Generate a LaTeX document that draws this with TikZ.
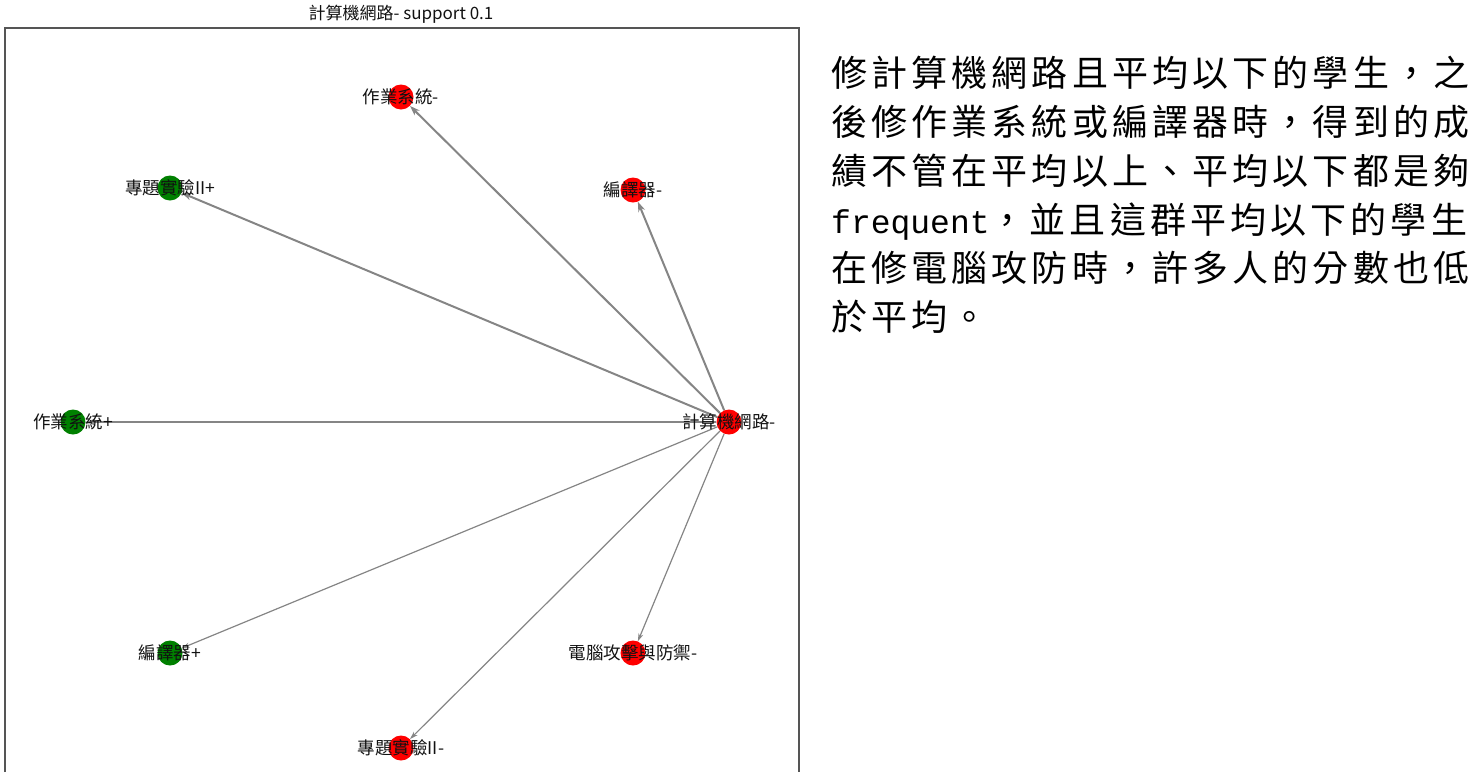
\documentclass[tikz,border=0pt]{standalone}
\usepackage{fontspec}
\setmainfont{Noto Sans CJK TC}
\newfontfamily\cjk[LetterSpace=11.5]{Noto Sans CJK TC}
\newfontfamily\mono{Liberation Mono}
\usetikzlibrary{arrows.meta}
\definecolor{edgegray}{HTML}{858585}
\definecolor{framegray}{HTML}{555555}
\definecolor{pos}{HTML}{008000}
\definecolor{neg}{HTML}{FF0000}
\definecolor{ink}{HTML}{111111}
\pgfdeclarelayer{back}
\pgfsetlayers{back,main}
\tikzset{
  frame/.style={draw=framegray, line width=1.2pt},
  edge/.style={draw=edgegray, line width=2pt, -{Stealth[length=10pt,width=7pt]}},
  edgethin/.style={draw=edgegray, line width=1.2pt, -{Stealth[length=8pt,width=5pt]}},
  vert/.style={circle, minimum size=25pt, inner sep=0pt},
  posv/.style={vert, fill=pos},
  negv/.style={vert, fill=neg},
  lab/.style={text=ink, font=\fontsize{17.5}{19}\selectfont},
}

\begin{document}
\begin{tikzpicture}[x=1pt, y=-1pt]
  \useasboundingbox (0,0) rectangle (1481,772);
  \draw[frame] (5,772) -- (5,28) -- (799,28) -- (799,772);
  \node[lab, font=\fontsize{17}{19}\selectfont] (title) at (401,14) {計算機網路- support 0.1};

  % vertices
  \node[negv, label={[lab]center:計算機網路-}] (N) at (729,422) {};
  \node[negv, label={[lab]center:作業系統-}] (OSm) at (401,97) {};
  \node[posv, label={[lab]center:專題實驗II+}] (PJp) at (170,188) {};
  \node[negv, label={[lab]center:編譯器-}] (CPm) at (633,190) {};
  \node[posv, label={[lab]center:作業系統+}] (OSp) at (73,422) {};
  \node[posv, label={[lab]center:編譯器+}] (CPp) at (170,653) {};
  \node[negv, label={[lab]center:電腦攻擊與防禦-}] (SEm) at (633,653) {};
  \node[negv, label={[lab]center:專題實驗II-}] (PJm) at (401,748) {};

  % edges
  \begin{pgfonlayer}{back}
    \draw[edge] (N) -- (OSm);
    \draw[edge] (N) -- (PJp);
    \draw[edge] (N) -- (CPm);
    \draw[edge] (N) -- (OSp);
    \draw[edgethin] (N) -- (CPp);
    \draw[edgethin] (N) -- (SEm);
    \draw[edgethin] (N) -- (PJm);
  \end{pgfonlayer}

  \node[anchor=north west, align=left, inner sep=0pt, text=black,
        font=\cjk\fontsize{36}{48.8}\selectfont] (note) at (831,56)
    {修計算機網路且平均以下的學生，之\\
     後修作業系統或編譯器時，得到的成\\
     績不管在平均以上、平均以下都是夠\\
     {\mono\fontsize{33}{48.8}\selectfont frequent}，並且這群平均以下的學生\\
     在修電腦攻防時，許多人的分數也低\\
     於平均。};
\end{tikzpicture}
\end{document}
